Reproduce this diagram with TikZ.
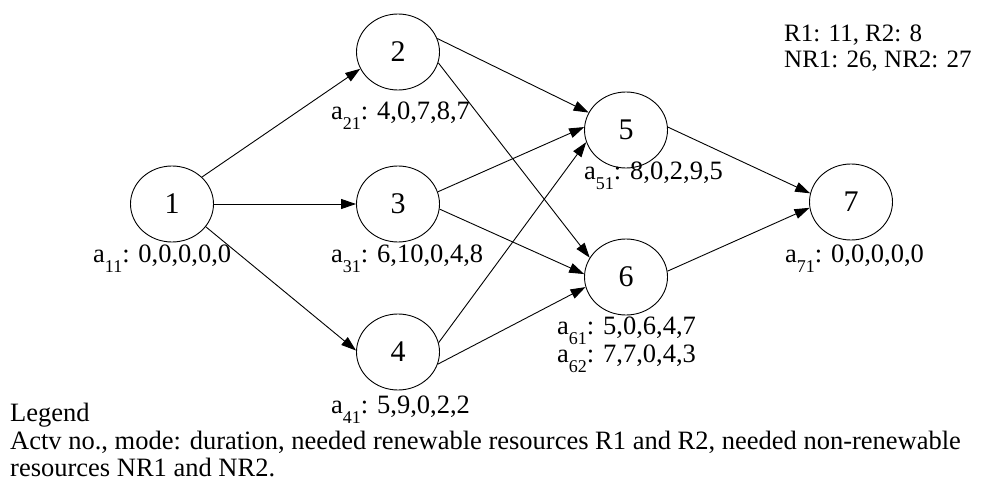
\documentclass[tikz,border=0pt]{standalone}
\usepackage{fontspec}
\setmainfont{Liberation Serif}
\usetikzlibrary{arrows.meta,shapes.geometric}
\newcommand{\lblsub}[1]{\raisebox{-10pt}{\fontsize{18}{18}\selectfont #1}}
\newcommand{\modelbl}[2]{a\lblsub{#1}: #2}
\tikzset{
  actvnode/.style={ellipse, draw=black, line width=0.9pt, minimum width=83pt,
    minimum height=76pt, inner sep=0pt, font=\fontsize{30}{30}\selectfont},
  modenode/.style={anchor=base west, inner sep=0pt, font=\fontsize{26.5}{28}\selectfont},
  availnode/.style={modenode, font=\fontsize{25}{27}\selectfont},
  arcedge/.style={-{Triangle[length=15pt,width=10pt]}, draw=black, line width=0.9pt},
}

\begin{document}
\begin{tikzpicture}[x=1pt,y=-1pt]
  \useasboundingbox (0,0) rectangle (981,486);
  % activities
  \node[actvnode] (n1) at (172,204) {1};
  \node[actvnode] (n2) at (398,52) {2};
  \node[actvnode] (n3) at (398,204) {3};
  \node[actvnode] (n4) at (398,352) {4};
  \node[actvnode] (n5) at (626,130) {5};
  \node[actvnode] (n6) at (626,277) {6};
  \node[actvnode] (n7) at (851,202) {7};
  % modes
  \node[modenode] (m11) at (93,262) {\modelbl{11}{0,0,0,0,0}};
  \node[modenode] (m21) at (331,120) {\modelbl{21}{4,0,7,8,7}};
  \node[modenode] (m31) at (331,262) {\modelbl{31}{6,10,0,4,8}};
  \node[modenode] (m41) at (331,413) {\modelbl{41}{5,9,0,2,2}};
  \node[modenode] (m51) at (584,180) {\modelbl{51}{8,0,2,9,5}};
  \node[modenode] (m61) at (557,334) {\modelbl{61}{5,0,6,4,7}};
  \node[modenode] (m62) at (557,362) {\modelbl{62}{7,7,0,4,3}};
  \node[modenode] (m71) at (785,262) {\modelbl{71}{0,0,0,0,0}};
  % availability
  \node[availnode] (avr) at (784,42) {R1: 11, R2: 8};
  \node[availnode] (avnr) at (784,68) {NR1: 26, NR2: 27};
  % legend
  \node[modenode] (lg1) at (10,421) {Legend};
  \node[modenode] (lg2) at (10,449) {Actv no., mode: duration, needed renewable resources R1 and R2, needed non-renewable};
  \node[modenode] (lg3) at (10,476) {resources NR1 and NR2.};
  % precedences
  \draw[arcedge] (n1.42) -- (n2.204);
  \draw[arcedge] (n1.0) -- (n3.180);
  \draw[arcedge] (n1.-34) -- (n4.178);
  \draw[arcedge] (n2.19) -- (n5.155);
  \draw[arcedge] (n2.-15) -- (n6.152);
  \draw[arcedge] (n3.17) -- (n5.176);
  \draw[arcedge] (n3.-7) -- (n6.176);
  \draw[arcedge] (n4.13) -- (n5.197);
  \draw[arcedge] (n4.-17) -- (n6.194);
  \draw[arcedge] (n5.4) -- (n7.168);
  \draw[arcedge] (n6.8) -- (n7.188);
\end{tikzpicture}
\end{document}
